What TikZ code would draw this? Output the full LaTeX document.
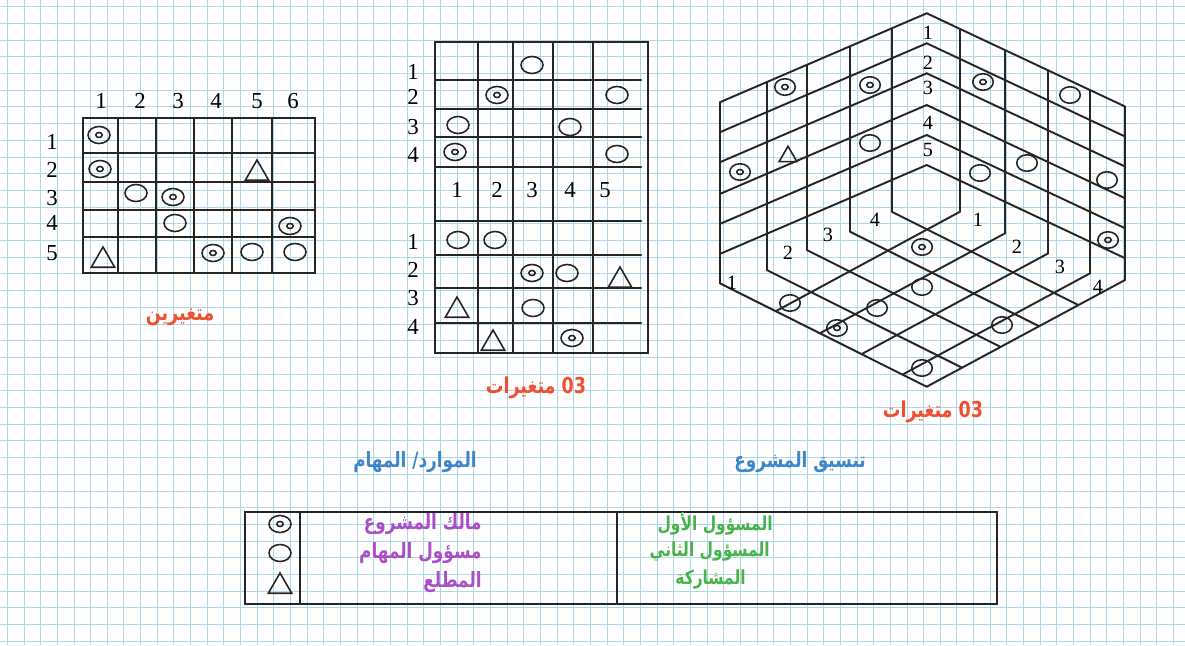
\documentclass[tikz,border=0pt]{standalone}
\usepackage{fontspec}
\setmainfont{Liberation Serif}
\newfontfamily\arabicfont[Script=Arabic, FakeStretch=0.8]{DejaVu Sans}
\TeXXeTstate=1
\usetikzlibrary{shapes.geometric, calc}
\definecolor{papblue}{HTML}{B0D6EA}
\definecolor{lred}{HTML}{F0502F}
\definecolor{lblue}{HTML}{3C86C9}
\definecolor{lpurple}{HTML}{A94FC8}
\definecolor{lgreen}{HTML}{47B34B}
\tikzset{
  % quadrillage du papier
  paper/.style={line width=0.5pt, papblue},
  % traits des matrices
  mline/.style={line width=1.3pt, black!85, line cap=round},
  cline/.style={line width=1.1pt, black!85, line cap=round},
  % symboles des roles
  circ/.style={ellipse, draw=black!85, line width=0.9pt, minimum width=0.44cm,
    minimum height=0.34cm, inner sep=0pt},
  inring/.style={ellipse, draw=black!85, line width=0.9pt, minimum width=0.13cm,
    minimum height=0.1cm, inner sep=0pt},
  dcirc/.style={circ, label={[inring]center:}},
  tri/.style={regular polygon, regular polygon sides=3, draw=black!85, line width=0.9pt,
    minimum size=0.54cm, inner sep=0pt, yshift=-0.07cm},
  % etiquettes
  num/.style={font=\fontsize{13}{13}\selectfont, inner sep=0pt},
  cnum/.style={font=\fontsize{11.5}{12}\selectfont, inner sep=0pt},
  ar/.style={font=\arabicfont\bfseries\fontsize{12}{14}\selectfont, inner sep=0pt},
  arbig/.style={font=\arabicfont\bfseries\fontsize{12.5}{14}\selectfont, inner sep=0pt},
  arsmall/.style={font=\arabicfont\bfseries\fontsize{11}{13}\selectfont, inner sep=0pt},
}
\begin{document}
\begin{tikzpicture}[x=0.02cm, y=-0.02cm]
  \useasboundingbox (0,0) rectangle (1185,645);
  \fill[white] (0,0) rectangle (1185,645);
  \foreach \i in {0,...,70} \draw[paper] ({7.3+16.66*\i},0) -- ++(0,645);
  \foreach \j in {0,...,38} \draw[paper] (0,{6.7+16.7*\j}) -- ++(1185,0);

  % matrice a deux variables
  \draw[mline] (83,118) rectangle (315,273);
  \foreach \x in {118,156,194,232,272} \draw[mline] (\x,118) -- (\x,273);
  \foreach \y in {153,182,210,237} \draw[mline] (83,\y) -- (315,\y);
  \foreach \i/\x in {1/101,2/140,3/178,4/216,5/257,6/293} \node[num] (lc\i) at (\x,101) {\i};
  \foreach \i/\y in {1/142,2/170,3/198,4/223,5/253} \node[num] (lr\i) at (52,\y) {\i};
  \foreach \s/\x/\y in {dcirc/99/135, dcirc/100/169, tri/257/170, circ/136/193, dcirc/173/197,
    circ/175/223, dcirc/290/226, tri/103/257, dcirc/213/253, circ/252/252, circ/295/252}
    \node[\s] at (\x,\y) {};
  \node[arbig, lred] (t2v) at (180,317) {\beginR متغيرين\endR};

  % matrice a trois variables
  \draw[mline] (435,42) rectangle (648,353);
  \foreach \x in {478,513,553,593} \draw[mline] (\x,42) -- (\x,353);
  \foreach \y in {80,109,137,167,221,255,288,323} \draw[mline] (435,\y) -- (641,\y);
  \foreach \i/\y in {1/72,2/97,3/127,4/155} \node[num] (mt\i) at (413,\y) {\i};
  \foreach \i/\y in {1/242,2/270,3/298,4/327} \node[num] (mb\i) at (413,\y) {\i};
  \foreach \i/\x in {1/457,2/497,3/532,4/570,5/605} \node[num] (mc\i) at (\x,190) {\i};
  \foreach \s/\x/\y in {circ/532/65, dcirc/497/95, circ/617/95, circ/458/125, circ/570/127,
    dcirc/455/152, circ/617/154, circ/458/240, circ/495/240, dcirc/532/273, circ/567/273,
    tri/620/277, tri/457/307, circ/533/308, tri/493/340, dcirc/572/338}
    \node[\s] at (\x,\y) {};
  \node[arbig, lred] (t3m) at (536,388) {\beginR\beginL 03\endL{} متغيرات\endR};

  % cube
  \foreach \a in {13.3,43.3,73.3,105,135,165}
    \draw[cline] (720,{\a+88.9}) -- (926.7,\a) -- (1125,{\a+93.2});
  \foreach \x/\b in {720/283.3, 766.7/270, 806.7/250, 850/231.7, 891.7/211.7}
    \draw[cline] (\x,{13.3+0.43*(926.7-\x)}) -- (\x,\b);
  \foreach \x/\b in {960/211.7, 1005/233.3, 1048.3/253.3, 1090/273.3, 1125/280}
    \draw[cline] (\x,{13.3+0.47*(\x-926.7)}) -- (\x,\b);
  \foreach \x/\y/\u/\v in {720/283.3/926.7/386.7, 766.7/270/962/367.7, 806.7/250/1000.5/346.9,
    850/231.7/1039/326.2, 891.7/211.7/1078.3/305, 1125/280/926.7/386.7, 960/211.7/775.8/311.2,
    1005/233.3/819.9/333.3, 1048.3/253.3/861.6/354.1, 1090/273.3/902.5/374.6}
    \draw[cline] (\x,\y) -- (\u,\v);
  \foreach \i/\y in {1/33,2/63,3/88,4/123,5/150} \node[cnum] (cr\i) at (928,\y) {\i};
  \foreach \i/\x/\y in {1/732/283,2/788/253,3/828/235,4/875/220} \node[cnum] (cl\i) at (\x,\y) {\i};
  \foreach \i/\x/\y in {1/978/220,2/1017/247,3/1060/267,4/1098/287} \node[cnum] (cd\i) at (\x,\y) {\i};
  \foreach \s/\x/\y in {dcirc/785/87, dcirc/870/85, tri/788/153, dcirc/740/172, circ/870/143,
    dcirc/983/82, circ/1070/95, circ/980/173, circ/1027/163, circ/1107/180, dcirc/1108/240,
    circ/790/303, dcirc/837/328, circ/877/308, circ/922/287, dcirc/922/247, circ/1002/325,
    circ/922/368}
    \node[\s, minimum width=0.41cm, minimum height=0.33cm] at (\x,\y) {};
  \node[arbig, lred] (t3c) at (933,412) {\beginR\beginL 03\endL{} متغيرات\endR};

  % legende
  \node[ar, lblue] (hres) at (415,462) {\beginR الموارد/ المهام\endR};
  \node[ar, lblue] (hcoord) at (800,462) {\beginR تنسيق المشروع\endR};
  \draw[mline, line width=1.1pt] (245,512) rectangle (997,604);
  \draw[mline, line width=1.1pt] (300,512) -- (300,604);
  \draw[mline, line width=1.1pt] (617,512) -- (617,604);
  \node[dcirc] (kown) at (280,524) {};
  \node[circ] (ktask) at (280,553) {};
  \node[tri] (kinf) at (280,583) {};
  \foreach \t/\y in {مالك المشروع/524, مسؤول المهام/553, المطلع/582}
    \node[ar, lpurple, anchor=east] at (482,\y) {\beginR \t\endR};
  \foreach \t/\x/\y in {المسؤول الأول/773/524, المسؤول الثاني/770/552, المشاركة/746/580}
    \node[arsmall, lgreen, anchor=east] at (\x,\y) {\beginR \t\endR};
\end{tikzpicture}
\end{document}
